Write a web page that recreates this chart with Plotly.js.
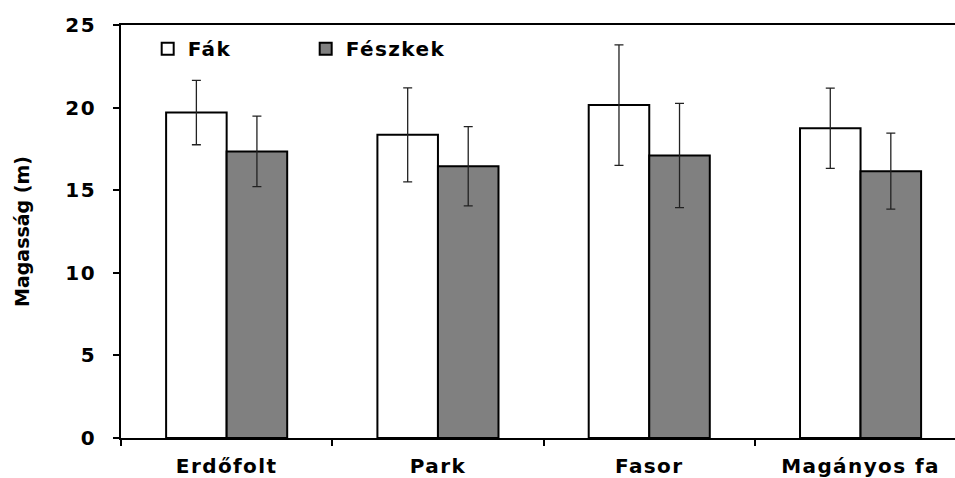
<!DOCTYPE html>
<html><head><meta charset="utf-8">
<script src="https://cdn.plot.ly/plotly-3.0.1.min.js"></script>
<style>
body{margin:0;background:#fff}
.xtick text, .ytick text, .legendtext {letter-spacing:1.4px}
</style>
</head><body><div id="chart" style="width:955px;height:478px"></div>
<script>
const categories = ["Erdőfolt", "Park", "Fasor", "Magányos fa"];
const seriesNames = ["Fák", "Fészkek"];
const fakValues = [19.7, 18.35, 20.15, 18.75];
const fakErrors = [1.95, 2.85, 3.65, 2.43];
const feszkekValues = [17.35, 16.45, 17.1, 16.15];
const feszkekErrors = [2.13, 2.4, 3.15, 2.3];
const yTickValues = [0, 5, 10, 15, 20, 25];

const fontFam = "DejaVu Sans, Liberation Sans, Arial, sans-serif";
function bar(name, vals, errs, fill) {
  return {
    type: "bar", name: name, x: categories, y: vals,
    marker: {color: fill, line: {color: "#000", width: 2}},
    error_y: {type: "data", array: errs, visible: true, color: "#222", thickness: 1.3, width: 4.5}
  };
}
const data = [
  bar(seriesNames[0], fakValues, fakErrors, "#ffffff"),
  bar(seriesNames[1], feszkekValues, feszkekErrors, "#808080")
];
const layout = {
  width: 955, height: 478,
  margin: {l: 121, r: 0, t: 25, b: 40},
  paper_bgcolor: "#fff", plot_bgcolor: "#fff",
  barmode: "group", bargap: 0.427, bargroupgap: 0,
  font: {family: fontFam, color: "#000", size: 19, weight: "bold"},
  showlegend: true,
  legend: {orientation: "h", x: 0.032, y: 0.99, xanchor: "left", yanchor: "top",
    bgcolor: "rgba(0,0,0,0)", font: {size: 20, family: fontFam, weight: "bold"},
    entrywidth: 113, traceorder: "normal"},
  xaxis: {type: "category", range: [-0.5, 3.447], showline: true, linecolor: "#000", linewidth: 2,
    mirror: true, ticks: "outside", tickson: "boundaries", ticklen: 6, tickwidth: 2, tickcolor: "#000",
    showgrid: false, zeroline: false, ticklabelstandoff: 9,
    tickfont: {size: 20, family: fontFam, weight: "bold"}},
  yaxis: {range: [0, 25], tickvals: yTickValues, showline: true, linecolor: "#000", linewidth: 2,
    ticks: "outside", ticklen: 6, tickwidth: 2, tickcolor: "#000", showgrid: false, zeroline: false,
    tickfont: {size: 20, family: fontFam, weight: "bold"}, ticklabelstandoff: 13,
    title: {text: "Magasság (m)", font: {size: 19, family: fontFam, weight: "bold"}, standoff: 31}}
};
Plotly.newPlot("chart", data, layout, {displayModeBar: false, staticPlot: true});
</script></body></html>
